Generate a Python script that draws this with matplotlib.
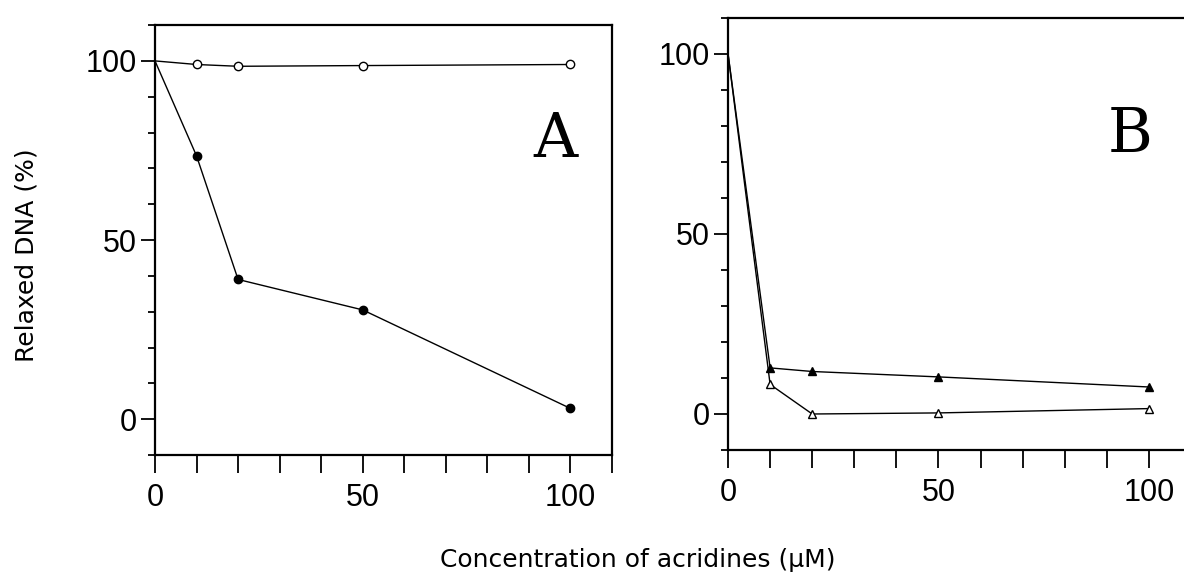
import numpy as np
import matplotlib.pyplot as plt
from matplotlib.ticker import MultipleLocator, FixedLocator

# panel A
conc = [0, 10, 20, 50, 100]
a_open = [100, 99, 98.5, 98.7, 99]
a_filled = [100, 73.5, 39, 30.5, 3]

# panel B
b_filled = [100, 12.8, 11.8, 10.3, 7.5]
b_open = [100, 8.2, 0, 0.3, 1.5]

xticks = [0, 50, 100]
yticks = [0, 50, 100]

plt.rcParams['font.family'] = ['Liberation Sans', 'DejaVu Sans']

fig = plt.figure(figsize=(11.84, 5.74), dpi=100)
axA = fig.add_axes([0.1309, 0.2073, 0.386, 0.749])
axB = fig.add_axes([0.6149, 0.216, 0.391, 0.753])


def style(ax):
    ax.set_xlim(0, 110)
    ax.set_ylim(-10, 110)
    ax.xaxis.set_major_locator(FixedLocator(xticks))
    ax.xaxis.set_minor_locator(MultipleLocator(10))
    ax.yaxis.set_major_locator(FixedLocator(yticks))
    ax.yaxis.set_minor_locator(MultipleLocator(10))
    ax.tick_params(axis='x', which='both', direction='out', length=13, width=1.3, pad=7, labelsize=22)
    ax.tick_params(axis='y', which='major', direction='out', length=10, width=1.3, pad=3, labelsize=22)
    ax.tick_params(axis='y', which='minor', direction='out', length=5, width=1.3)
    for s in ax.spines.values():
        s.set_linewidth(1.6)


ax = axA
ax.plot(conc, a_open, '-', color='black', lw=1.0, marker='o', ms=6, mfc='white', mec='black', markevery=[1, 2, 3, 4])
ax.plot(conc, a_filled, '-', color='black', lw=1.0, marker='o', ms=6, mfc='black', mec='black', markevery=[1, 2, 3, 4])
style(ax)
ax.text(96.4, 77.8, 'A', family='DejaVu Serif', fontsize=44, ha='center', va='center')

ax = axB
ax.plot(conc, b_filled, '-', color='black', lw=1.0, marker='^', ms=6, mfc='black', mec='black', markevery=[1, 2, 3, 4])
ax.plot(conc, b_open, '-', color='black', lw=1.0, marker='^', ms=6, mfc='white', mec='black', markevery=[1, 2, 3, 4])
style(ax)
ax.text(95.5, 77.4, 'B', family='DejaVu Serif', fontsize=44, ha='center', va='center')

fig.text(0.022, 0.556, 'Relaxed DNA (%)', family='DejaVu Sans', fontsize=18, rotation=90, ha='center', va='center')
fig.text(0.539, 0.024, 'Concentration of acridines (\u00b5M)', family='DejaVu Sans', fontsize=18, ha='center', va='center')

fig.savefig('out.png', dpi=100)
